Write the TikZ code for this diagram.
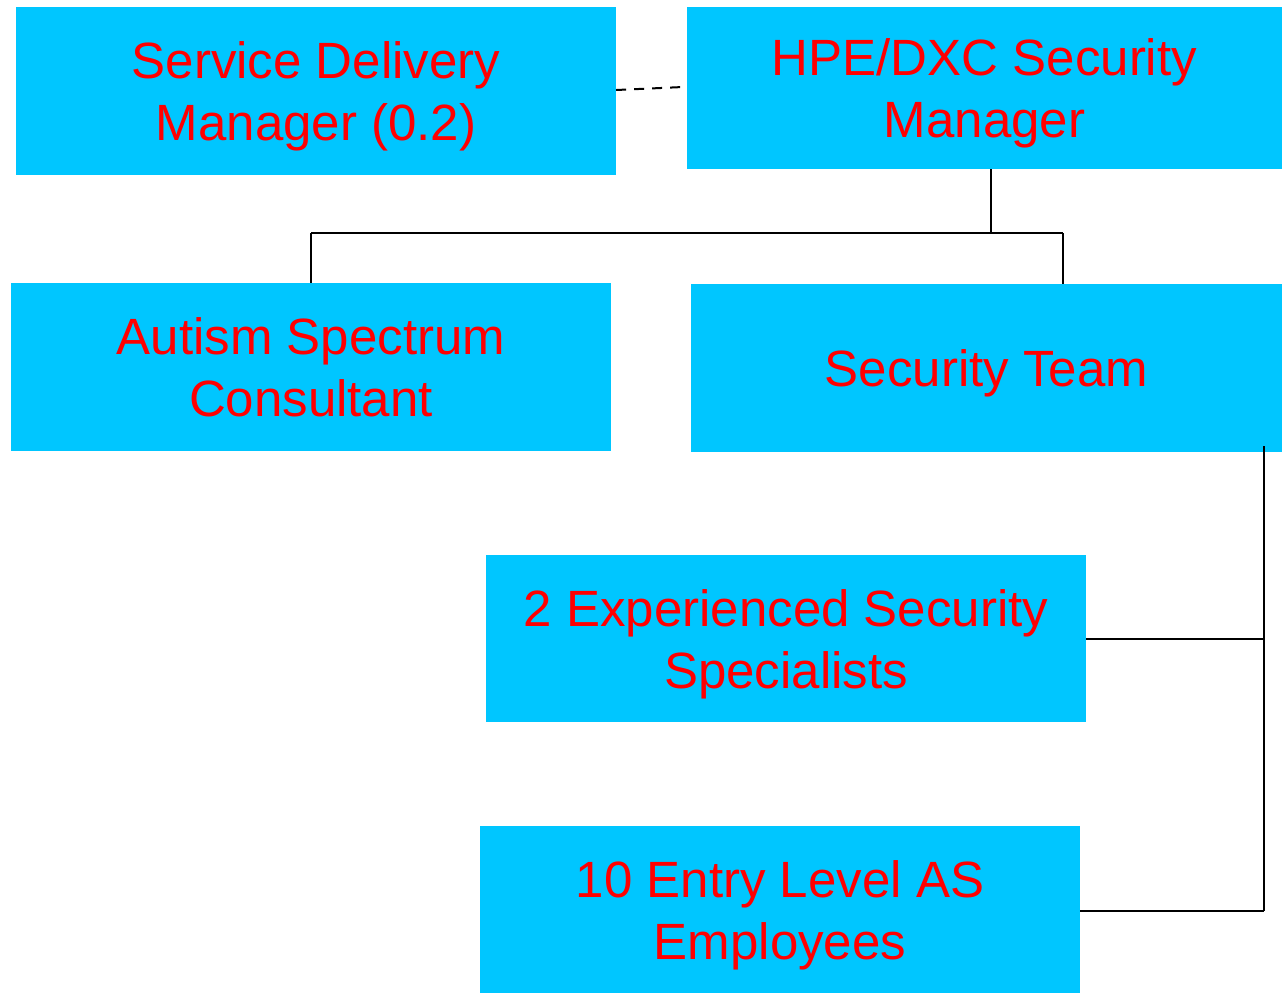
\documentclass[tikz,border=0pt]{standalone}
\usepackage{fontspec}
\setmainfont{Liberation Sans}
\definecolor{boxcyan}{HTML}{00C6FF}
\definecolor{txtred}{HTML}{FF0000}
\newcommand{\boxtxt}[1]{\raisebox{0pt}[\dimexpr\height+13pt\relax][\depth]{\begin{tabular}{@{}c@{}}#1\end{tabular}}}
\begin{document}
\begin{tikzpicture}[x=1pt,y=-1pt,
  orgbox/.style={fill=boxcyan, draw=none, text=txtred, align=center,
    font=\fontsize{51}{62}\selectfont, inner sep=0pt},
  conn/.style={line width=2pt, black}]
\useasboundingbox (0,0) rectangle (1282,994);
\node[orgbox, minimum width=600pt, minimum height=168pt] (sdm) at (316,91) {\boxtxt{Service Delivery\\Manager (0.2)}};
\node[orgbox, minimum width=595pt, minimum height=162pt] (hpe) at (984.5,88) {\boxtxt{HPE/DXC Security\\Manager}};
\node[orgbox, minimum width=600pt, minimum height=168pt] (asc) at (311,367) {\boxtxt{Autism Spectrum\\Consultant}};
\node[orgbox, minimum width=591pt, minimum height=168pt] (st) at (986.5,368) {\boxtxt{Security Team}};
\node[orgbox, minimum width=600pt, minimum height=167pt] (ess) at (786,638.5) {\boxtxt{2 Experienced Security\\Specialists}};
\node[orgbox, minimum width=600pt, minimum height=167pt] (ele) at (780,909.5) {\boxtxt{10 Entry Level AS\\Employees}};
\coordinate (dend) at (683,87);
\draw[conn, dashed, dash pattern=on 10pt off 8pt] (sdm.east |- 0,90) -- (dend);
\coordinate (hj) at (991,233);
\coordinate (lj) at (311,233);
\coordinate (rj) at (1063,233);
\draw[conn] (hpe.south -| hj) -- (hj);
\draw[conn] (lj) -- (rj);
\draw[conn] (lj) -- (asc.north -| lj);
\draw[conn] (rj) -- (st.north -| rj);
\coordinate (vt) at (1264,446);
\coordinate (vm) at (1264,639);
\coordinate (vb) at (1264,911);
\draw[conn] (vt) -- (vb);
\draw[conn] (ess.east |- vm) -- (vm);
\draw[conn] (ele.east |- vb) -- (vb);
\end{tikzpicture}
\end{document}
